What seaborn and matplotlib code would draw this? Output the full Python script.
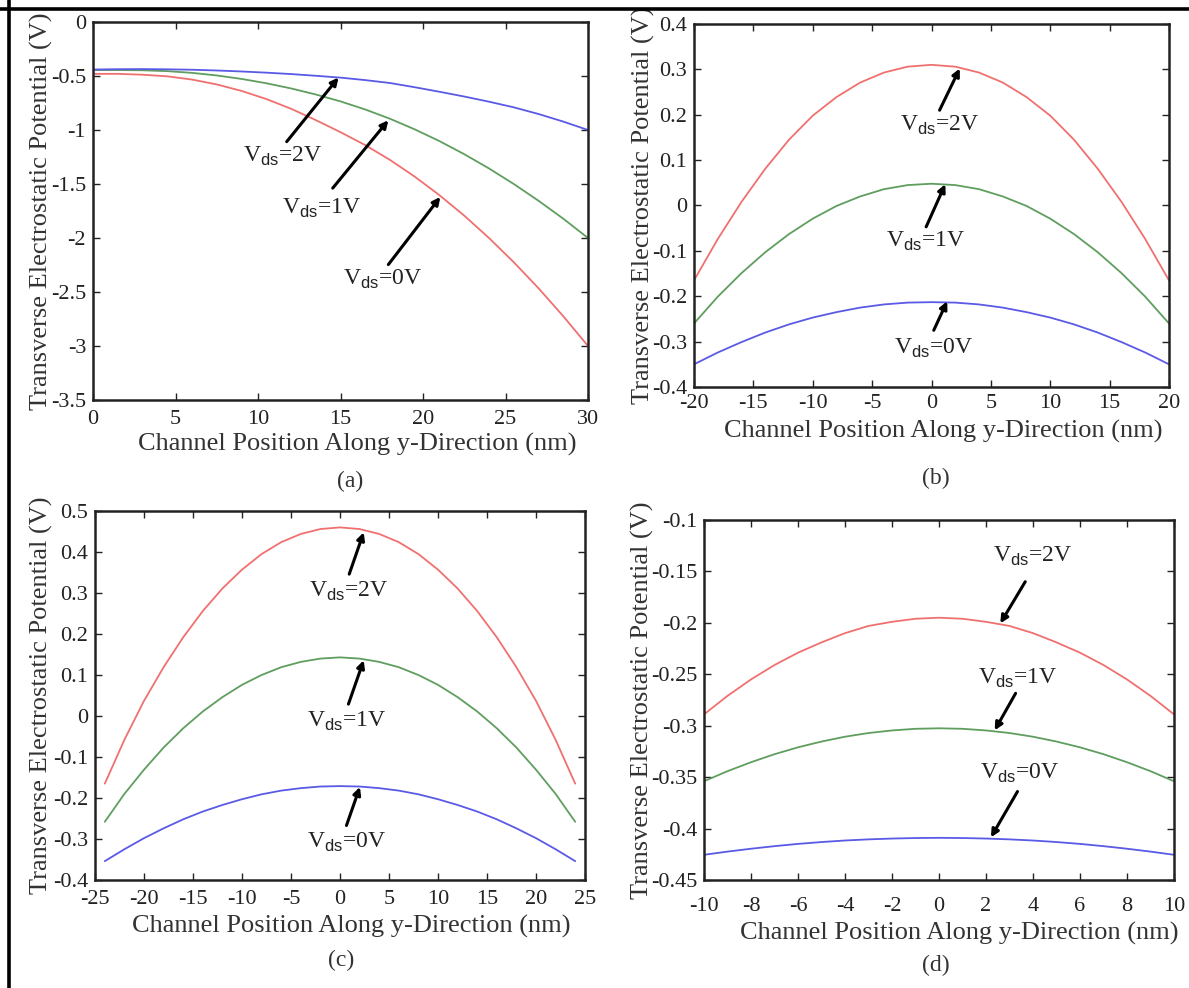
import numpy as np
import pandas as pd
import matplotlib
matplotlib.use("Agg")
import matplotlib.pyplot as plt
from matplotlib.lines import Line2D
import seaborn as sns

# ---------------- data ----------------
# Panel (a)
a_x = [0, 1.5, 3, 4.5, 6, 7.5, 9, 10.5, 12, 13.5, 15, 16.5, 18, 19.5, 21, 22.5, 24, 25.5, 27, 28.5, 30]
a_vds2 = [-0.440, -0.437, -0.436, -0.438, -0.442, -0.449, -0.458, -0.469, -0.482, -0.498, -0.515,
          -0.538, -0.565, -0.604, -0.646, -0.690, -0.738, -0.790, -0.852, -0.922, -1.0]
a_vds1 = [-0.445, -0.445, -0.447, -0.455, -0.471, -0.495, -0.527, -0.567, -0.615, -0.671, -0.735,
          -0.810, -0.896, -0.994, -1.103, -1.224, -1.356, -1.500, -1.655, -1.821, -2.0]
a_vds0 = [-0.480, -0.480, -0.488, -0.503, -0.533, -0.578, -0.638, -0.713, -0.803, -0.908, -1.020,
          -1.140, -1.277, -1.432, -1.604, -1.793, -2.000, -2.224, -2.465, -2.724, -3.0]

# Panel (b)
b_x = [-20, -18, -16, -14, -12, -10, -8, -6, -4, -2, 0, 2, 4, 6, 8, 10, 12, 14, 16, 18, 20]
b_vds2 = [-0.165, -0.074, 0.008, 0.081, 0.145, 0.198, 0.239, 0.271, 0.293, 0.306, 0.310,
          0.306, 0.293, 0.271, 0.239, 0.198, 0.145, 0.081, 0.008, -0.074, -0.165]
b_vds1 = [-0.260, -0.201, -0.149, -0.103, -0.063, -0.029, -0.001, 0.020, 0.036, 0.045, 0.048,
          0.045, 0.036, 0.020, -0.001, -0.029, -0.063, -0.103, -0.149, -0.201, -0.260]
b_vds0 = [-0.350, -0.324, -0.301, -0.280, -0.262, -0.247, -0.235, -0.225, -0.218, -0.214, -0.213,
          -0.214, -0.218, -0.225, -0.235, -0.247, -0.262, -0.280, -0.301, -0.324, -0.350]

# Panel (c)
c_x = [-24, -22, -20, -18, -16, -14, -12, -10, -8, -6, -4, -2, 0,
       2, 4, 6, 8, 10, 12, 14, 16, 18, 20, 22, 24]
c_vds2 = [-0.165, -0.058, 0.037, 0.119, 0.192, 0.256, 0.311, 0.357, 0.395, 0.424, 0.444, 0.456, 0.460,
          0.456, 0.444, 0.424, 0.395, 0.357, 0.311, 0.256, 0.192, 0.119, 0.037, -0.058, -0.165]
c_vds1 = [-0.258, -0.190, -0.131, -0.077, -0.030, 0.011, 0.046, 0.076, 0.100, 0.119, 0.132, 0.140, 0.143,
          0.140, 0.132, 0.119, 0.100, 0.076, 0.046, 0.011, -0.030, -0.077, -0.131, -0.190, -0.258]
c_vds0 = [-0.354, -0.325, -0.298, -0.274, -0.252, -0.233, -0.217, -0.203, -0.191, -0.182, -0.176, -0.172, -0.171,
          -0.172, -0.176, -0.182, -0.191, -0.203, -0.217, -0.233, -0.252, -0.274, -0.298, -0.325, -0.354]

# Panel (d)
d_x = [-10, -9, -8, -7, -6, -5, -4, -3, -2, -1, 0, 1, 2, 3, 4, 5, 6, 7, 8, 9, 10]
d_vds2 = [-0.289, -0.271, -0.255, -0.241, -0.229, -0.219, -0.210, -0.203, -0.199, -0.196, -0.195,
          -0.196, -0.199, -0.203, -0.210, -0.219, -0.229, -0.241, -0.255, -0.271, -0.289]
d_vds1 = [-0.354, -0.3442, -0.3355, -0.3277, -0.321, -0.3154, -0.3107, -0.3071, -0.3046, -0.303, -0.3025,
          -0.303, -0.3046, -0.3071, -0.3107, -0.3154, -0.321, -0.3277, -0.3355, -0.3442, -0.354]
d_vds0 = [-0.4255, -0.4224, -0.4196, -0.4171, -0.4149, -0.4131, -0.4116, -0.4105, -0.4097, -0.4092, -0.409,
          -0.4092, -0.4097, -0.4105, -0.4116, -0.4131, -0.4149, -0.4171, -0.4196, -0.4224, -0.4255]

captions = ["(a)", "(b)", "(c)", "(d)"]
xlabel_text = "Channel Position Along y-Direction (nm)"
ylabel_text = "Transverse Electrostatic Potential (V)"

a_xticks = [0, 5, 10, 15, 20, 25, 30]
a_yticks = [0, -0.5, -1, -1.5, -2, -2.5, -3, -3.5]
b_xticks = [-20, -15, -10, -5, 0, 5, 10, 15, 20]
b_yticks = [0.4, 0.3, 0.2, 0.1, 0, -0.1, -0.2, -0.3, -0.4]
c_xticks = [-25, -20, -15, -10, -5, 0, 5, 10, 15, 20, 25]
c_yticks = [0.5, 0.4, 0.3, 0.2, 0.1, 0, -0.1, -0.2, -0.3, -0.4]
d_xticks = [-10, -8, -6, -4, -2, 0, 2, 4, 6, 8, 10]
d_yticks = [-0.1, -0.15, -0.2, -0.25, -0.3, -0.35, -0.4, -0.45]

# ---------------- style ----------------
sns.set_style("ticks")
plt.rcParams["font.family"] = ["Liberation Serif", "DejaVu Serif"]
plt.rcParams["mathtext.fontset"] = "custom"
plt.rcParams["mathtext.rm"] = "Liberation Serif"
plt.rcParams["mathtext.sf"] = "Liberation Sans"

RED, GREEN, BLUE = "#f07070", "#5f9e5f", "#5a5ae6"

fig = plt.figure(figsize=(11.89, 9.88), dpi=100)
W, H = 1189.0, 988.0


def box(l, t, r, b):
    return [l / W, 1 - b / H, (r - l) / W, (b - t) / H]


panels = [
    dict(pos=box(93, 22, 588, 400), x=a_x, ys=[a_vds0, a_vds1, a_vds2],
         colmap={"0V": RED, "1V": GREEN, "2V": BLUE},
         xlim=(0, 30), ylim=(-3.5, 0), xt=a_xticks, yt=a_yticks, xpad=7,
         ann=[("2V", (11.74, -1.108), (14.88, -0.514), (11.5, -1.246)),
              ("1V", (14.53, -1.538), (17.9, -0.91), (13.84, -1.723)),
              ("0V", (17.9, -2.246), (21.05, -1.62), (17.56, -2.385))],
         ylab=(-0.080, 0.5), xlab=(0.533, -0.088), cap=(350, 481)),
    dict(pos=box(694, 24, 1169, 387), x=b_x, ys=[b_vds0, b_vds1, b_vds2],
         colmap={"0V": BLUE, "1V": GREEN, "2V": RED},
         xlim=(-20, 20), ylim=(-0.4, 0.4), xt=b_xticks, yt=b_yticks, xpad=5,
         ann=[("2V", (0.68, 0.21), (2.38, 0.302), (0.68, 0.177)),
              ("1V", (-0.45, -0.047), (1.16, 0.047), (-0.45, -0.080)),
              ("0V", (0.19, -0.275), (1.32, -0.211), (0.19, -0.315))],
         ylab=(-0.082, 0.5), xlab=(0.524, -0.090), cap=(936, 478)),
    dict(pos=box(95, 511, 585, 880), x=c_x, ys=[c_vds0, c_vds1, c_vds2],
         colmap={"0V": BLUE, "1V": GREEN, "2V": RED},
         xlim=(-25, 25), ylim=(-0.4, 0.5), xt=c_xticks, yt=c_yticks, xpad=7,
         ann=[("2V", (0.94, 0.346), (2.42, 0.448), (0.86, 0.304)),
              ("1V", (0.86, 0.029), (2.42, 0.136), (0.66, -0.0125)),
              ("0V", (0.66, -0.267), (2.03, -0.173), (0.66, -0.308))],
         ylab=(-0.086, 0.5), xlab=(0.522, -0.094), cap=(341, 960)),
    dict(pos=box(704, 520, 1174, 880), x=d_x, ys=[d_vds0, d_vds1, d_vds2],
         colmap={"0V": BLUE, "1V": GREEN, "2V": RED},
         xlim=(-10, 10), ylim=(-0.45, -0.1), xt=d_xticks, yt=d_yticks, xpad=12,
         ann=[("2V", (3.67, -0.16), (2.61, -0.2005), (3.99, -0.1356)),
              ("1V", (3.26, -0.2685), (2.37, -0.3045), (3.34, -0.254)),
              ("0V", (3.34, -0.364), (2.21, -0.4085), (3.43, -0.346))],
         ylab=(-0.107, 0.5), xlab=(0.543, -0.117), cap=(936, 965)),
]

for i, p in enumerate(panels):
    ax = fig.add_axes(p["pos"])
    frames = []
    for lev, yv in zip(["0V", "1V", "2V"], p["ys"]):
        frames.append(pd.DataFrame({"x": p["x"], "phi": yv, "Vds": lev}))
    df = pd.concat(frames, ignore_index=True)
    sns.lineplot(data=df, x="x", y="phi", hue="Vds", palette=p["colmap"],
                 estimator=None, sort=False, legend=False, linewidth=1.3, ax=ax)
    ax.set_xlim(*p["xlim"])
    ax.set_ylim(*p["ylim"])
    ax.set_xticks(p["xt"])
    ax.set_yticks(p["yt"])
    ax.set_xticklabels(["%g" % v for v in p["xt"]])
    ax.set_yticklabels(["%g" % v for v in p["yt"]])
    ax.tick_params(direction="in", top=True, right=True, length=5, width=1.0,
                   labelsize=16, colors="#222222", labelcolor="#222222")
    ax.tick_params(axis="y", pad=5)
    ax.tick_params(axis="x", pad=p["xpad"])
    for sp in ax.spines.values():
        sp.set_visible(True)
        sp.set_linewidth(1.8)
        sp.set_color("#222222")
    ax.set_xlabel(xlabel_text, fontsize=19, color="#333333")
    ax.set_ylabel(ylabel_text, fontsize=19, color="#333333")
    ax.xaxis.set_label_coords(*p["xlab"])
    ax.yaxis.set_label_coords(*p["ylab"])
    for lev, tail, tip, tpos in p["ann"]:
        ax.annotate("", xy=tip, xytext=tail,
                    arrowprops=dict(arrowstyle="-|>", color="black", lw=2.2,
                                    mutation_scale=11, shrinkA=0, shrinkB=0))
        ax.text(tpos[0], tpos[1], r"V$_{\mathsf{ds}}$=" + lev, fontsize=17,
                ha="center", va="center", color="#222222")
    fig.text(p["cap"][0] / W, 1 - p["cap"][1] / H, captions[i], fontsize=17,
             ha="center", va="center", color="#333333")

# outer frame lines (top and left), as in the reference
fig.add_artist(Line2D([0, 1], [1 - 9.5 / H, 1 - 9.5 / H], transform=fig.transFigure,
                      color="black", lw=2.6))
fig.add_artist(Line2D([9 / W, 9 / W], [0, 1], transform=fig.transFigure,
                      color="black", lw=2.6))

fig.savefig("out.png", dpi=100, facecolor="white")
